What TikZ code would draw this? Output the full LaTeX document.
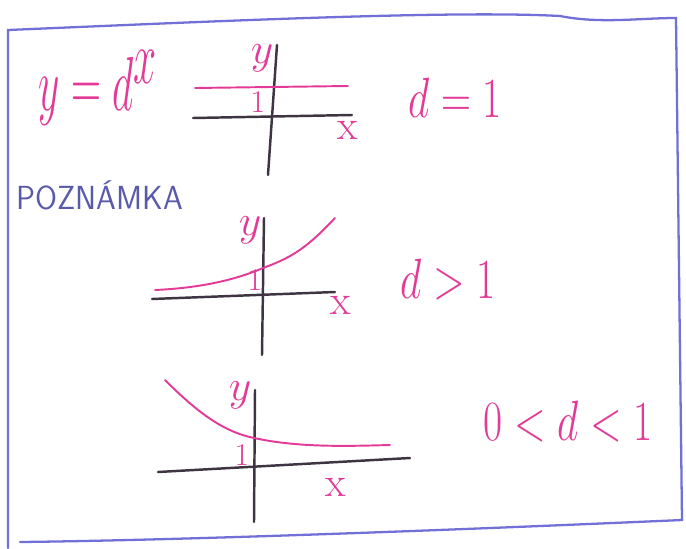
\documentclass[tikz,border=0pt]{standalone}
\usepackage{amsmath}
\definecolor{pinkpen}{RGB}{226,58,150}
\definecolor{bluepen}{RGB}{112,112,215}
\definecolor{inkpen}{RGB}{62,52,66}
\tikzset{
  frame/.style={draw=bluepen,line width=1.3pt,line cap=round},
  axis/.style={draw=inkpen,line width=1.4pt,line cap=round},
  curve/.style={draw=pinkpen,line width=1.1pt,line cap=round},
  lbl/.style={text=pinkpen,inner sep=0pt,font=\fontsize{18}{18}\selectfont},
  cond/.style={text=pinkpen,inner sep=0pt,xscale=0.95,yscale=1.3,font=\fontsize{36}{36}\selectfont}
}
\begin{document}
\begin{tikzpicture}[x=0.02cm,y=-0.02cm]
        \useasboundingbox (0,0) rectangle (686,548);
        % frame
        \draw[frame] (8,548) -- (8,30) .. controls (200,22) and (450,10) .. (560,16)
                     .. controls (600,24) and (640,18) .. (676,18) -- (682,520)
                     .. controls (500,528) and (200,540) .. (20,542);
        % heading
        \node at (98,88) [cond,xscale=1.0,yscale=1.35,font=\fontsize{46}{46}\selectfont] (eq) {$y=d^{x}$};
        \node at (100,195) [text=bluepen!80!black,inner sep=0pt,xscale=0.95,font=\sffamily\fontsize{19}{19}\selectfont] (note) {POZNÁMKA};
        % graph one: d = 1
        \coordinate (y1t) at (277,45);
        \coordinate (y1b) at (268,175);
        \coordinate (x1l) at (193,118);
        \coordinate (x1r) at (352,115);
        \draw[axis] (y1b) -- (y1t);
        \draw[axis] (x1l) -- (x1r);
        \draw[curve] (195,88) -- (348,86);
        \node at (262,58) [lbl,font=\fontsize{26}{26}\selectfont] (ya) {$y$};
        \node at (258,102) [lbl] (one1) {1};
        \node at (348,130) [lbl,font=\fontsize{24}{24}\selectfont] (xa) {x};
        \node at (455,98) [cond] (c1) {$d=1$};
        % graph two: d > 1
        \coordinate (y2t) at (264,218);
        \coordinate (y2b) at (262,355);
        \coordinate (x2l) at (152,299);
        \coordinate (x2r) at (335,292);
        \draw[axis] (y2b) -- (y2t);
        \draw[axis] (x2l) -- (x2r);
        \draw[curve] (155,290) .. controls (200,288) and (235,280) .. (263,268)
                     .. controls (290,258) and (305,250) .. (335,218);
        \node at (250,230) [lbl,font=\fontsize{26}{26}\selectfont] (yb) {$y$};
        \node at (255,280) [lbl] (one2) {1};
        \node at (341,305) [lbl,font=\fontsize{24}{24}\selectfont] (xb) {x};
        \node at (448,280) [cond] (c2) {$d>1$};
        % graph three: 0 < d < 1
        \coordinate (y3t) at (255,390);
        \coordinate (y3b) at (254,522);
        \coordinate (x3l) at (158,472);
        \coordinate (x3r) at (410,458);
        \draw[axis] (y3b) -- (y3t);
        \draw[axis] (x3l) -- (x3r);
        \draw[curve] (165,380) .. controls (200,415) and (225,432) .. (254,438)
                     .. controls (300,448) and (350,446) .. (390,445);
        \node at (240,395) [lbl,font=\fontsize{26}{26}\selectfont] (yc) {$y$};
        \node at (242,455) [lbl] (one3) {1};
        \node at (336,487) [lbl,font=\fontsize{24}{24}\selectfont] (xc) {x};
        \node at (568,422) [cond,font=\fontsize{40}{40}\selectfont] (c3) {$0<d<1$};
\end{tikzpicture}
\end{document}
